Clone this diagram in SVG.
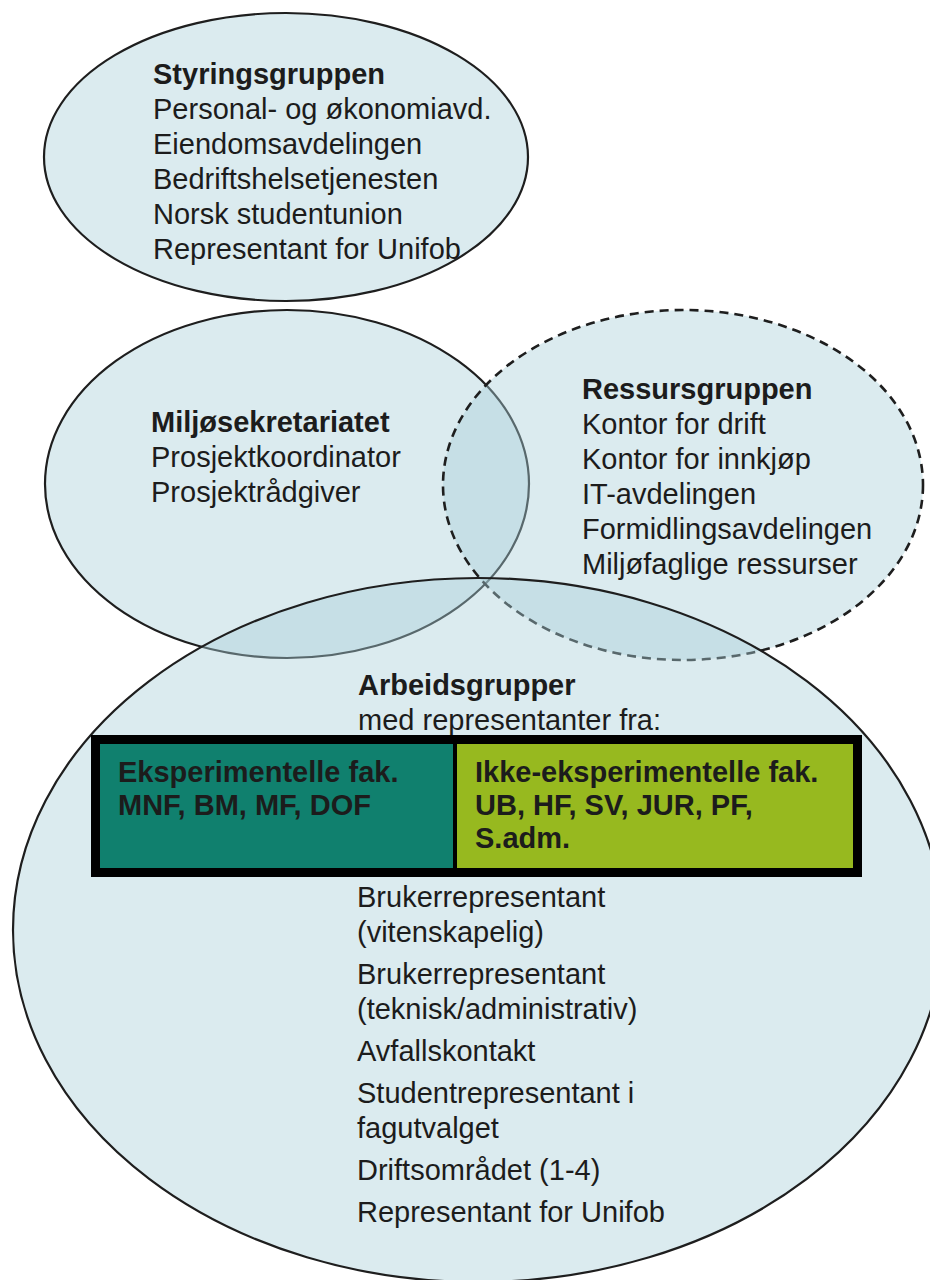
<svg xmlns="http://www.w3.org/2000/svg" width="930" height="1280" viewBox="0 0 930 1280">
<style>
.bub{fill:#a9cfd9;fill-opacity:0.42;stroke:#1e1e1e;stroke-width:2.2}
.dash{stroke-dasharray:9 6;stroke-width:2.6}
text{font-family:"Liberation Sans",Arial,sans-serif;font-size:29px;fill:#1c1c1c}
.b{font-weight:bold}
</style>
<rect width="930" height="1280" fill="#ffffff"/>
<g id="styringsgruppen">
<ellipse class="bub" cx="286" cy="157" rx="242" ry="144"/>
<text x="153" y="84" class="b">Styringsgruppen</text>
<text x="153" y="119">Personal- og økonomiavd.</text>
<text x="153" y="154">Eiendomsavdelingen</text>
<text x="153" y="189">Bedriftshelsetjenesten</text>
<text x="153" y="224">Norsk studentunion</text>
<text x="153" y="259">Representant for Unifob</text>
</g>
<g id="miljosekretariatet">
<ellipse class="bub" cx="287" cy="484" rx="242" ry="174"/>
<text x="151" y="432" class="b">Miljøsekretariatet</text>
<text x="151" y="467">Prosjektkoordinator</text>
<text x="151" y="502">Prosjektrådgiver</text>
</g>
<g id="ressursgruppen">
<ellipse class="bub dash" cx="683" cy="485" rx="240" ry="175"/>
<text x="582" y="399" class="b">Ressursgruppen</text>
<text x="582" y="434">Kontor for drift</text>
<text x="582" y="469">Kontor for innkjøp</text>
<text x="582" y="504">IT-avdelingen</text>
<text x="582" y="539">Formidlingsavdelingen</text>
<text x="582" y="574">Miljøfaglige ressurser</text>
</g>
<g id="arbeidsgrupper">
<ellipse class="bub" cx="478" cy="930" rx="465" ry="352"/>
<text x="358" y="695" class="b">Arbeidsgrupper</text>
<text x="358" y="730">med representanter fra:</text>
<text x="357" y="907">Brukerrepresentant</text>
<text x="357" y="942">(vitenskapelig)</text>
<text x="357" y="984">Brukerrepresentant</text>
<text x="357" y="1019">(teknisk/administrativ)</text>
<text x="357" y="1061">Avfallskontakt</text>
<text x="357" y="1103">Studentrepresentant i</text>
<text x="357" y="1138">fagutvalget</text>
<text x="357" y="1180">Driftsområdet (1-4)</text>
<text x="357" y="1222">Representant for Unifob</text>
</g>
<g id="fakulteter">
<rect x="96" y="740" width="359" height="133" fill="#10806e"/>
<rect x="455" y="740" width="402" height="133" fill="#97b91f"/>
<line x1="455" y1="740" x2="455" y2="873" stroke="#000" stroke-width="4"/>
<rect x="95.5" y="739.5" width="762" height="133" fill="none" stroke="#000" stroke-width="9"/>
<text x="118" y="782" class="b">Eksperimentelle fak.</text>
<text x="118" y="815" class="b">MNF, BM, MF, DOF</text>
<text x="475" y="782" class="b">Ikke-eksperimentelle fak.</text>
<text x="475" y="815" class="b">UB, HF, SV, JUR, PF,</text>
<text x="475" y="848" class="b">S.adm.</text>
</g>
<g id="connectors"></g>
</svg>
